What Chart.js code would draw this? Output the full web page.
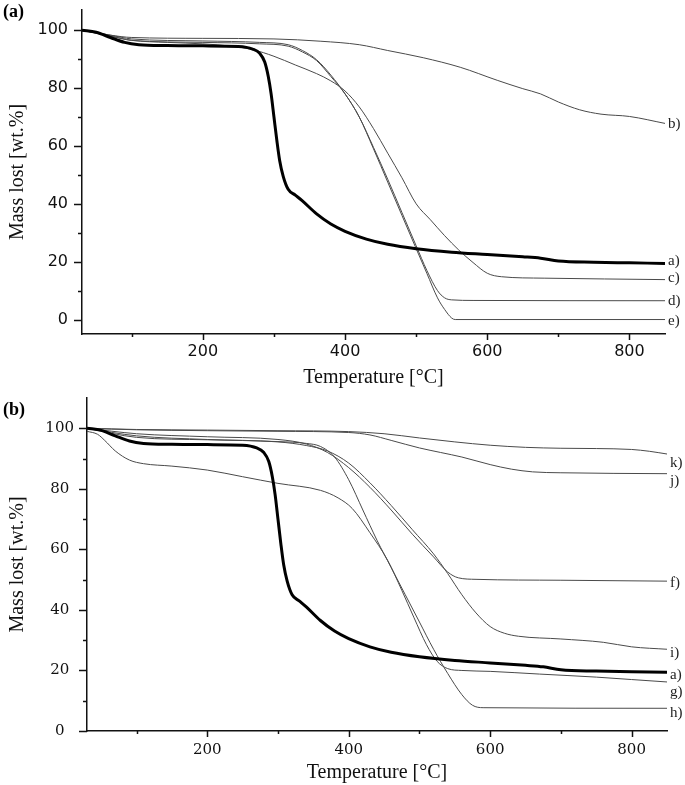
<!DOCTYPE html>
<html>
<head>
<title>TGA curves</title>
<script src="https://cdn.jsdelivr.net/npm/chart.js"></script>
<style>
  body { margin: 0; background: #fff; }
  canvas { display: block; }
</style>
</head>
<body>
<canvas id="panel-a" width="685" height="390"></canvas>
<canvas id="panel-b" width="685" height="395"></canvas>
<script>
// [temperature °C, mass wt.%]
const curveA = [[30,100],[50,99.3],[70,97.5],[90,95.8],[110,95.0],[150,94.7],[200,94.6],[250,94.4],[270,93.5],[280,92],[287,89],[292,84],[296,78],[300,70],[304,62],[308,55],[313,49.5],[320,45],[330,43],[340,41],[360,36.5],[380,33],[400,30.5],[430,27.8],[460,26],[500,24.5],[550,23.3],[600,22.5],[650,21.7],[675,21.2],[700,20.2],[750,19.8],[800,19.6],[850,19.4]];
const curveB = [[30,100],[70,98.3],[100,97.5],[200,97.2],[300,97],[366,96.2],[420,95],[460,93],[510,90.5],[562,87.2],[614,82.7],[650,79.8],[675,78],[700,75.2],[730,72.5],[760,71],[800,70.2],[850,67.8]];
const curveC = [[30,100],[70,98],[100,96.5],[150,95.8],[200,95.3],[240,94.5],[270,93.3],[300,91],[330,88],[360,85],[380,82.5],[400,79],[420,73.5],[440,66],[460,57.5],[480,49],[500,40],[520,34.5],[540,29],[560,24],[580,19.7],[600,16],[620,14.8],[680,14.3],[850,13.8]];
const curveD = [[30,100],[70,98],[100,96.5],[200,95.8],[280,95.3],[320,94.5],[340,92.5],[360,89.5],[380,84],[400,78],[420,70],[440,59.5],[460,48.5],[480,37],[500,25.5],[515,17],[530,10],[540,7.5],[550,6.8],[580,6.6],[850,6.5]];
const curveE = [[30,100],[70,98.3],[100,97],[200,96.3],[280,95.8],[320,95],[340,93],[360,89.8],[380,84.5],[400,78],[420,70],[440,59],[460,47.5],[480,36],[500,24.5],[515,16],[530,7.5],[540,3.5],[550,0.5],[555,0],[850,0]];
const curveF = [[30,100],[100,98.2],[200,97.2],[300,96.3],[340,94.8],[370,92],[400,87],[430,80.5],[460,73],[490,65],[520,57.5],[540,52.5],[555,50.6],[580,50.1],[700,49.8],[850,49.5]];
const curveG = [[30,99],[45,98],[55,96],[70,92.5],[90,89.5],[110,88.3],[150,87.5],[200,86.2],[250,84],[300,81.8],[360,79.5],[385,77],[405,73.5],[430,65.5],[455,56.4],[475,46.5],[492,37.6],[510,28.5],[525,23],[540,20.6],[560,20],[600,19.7],[670,18.8],[750,17.8],[800,17],[850,16.2]];
const curveH = [[30,100],[100,97],[200,96.2],[300,95.6],[340,95],[360,94],[380,90.5],[400,83],[420,73],[440,63],[460,54],[480,45],[500,36],[520,27],[540,19],[560,12],[575,8.5],[590,7.7],[850,7.5]];
const curveI = [[30,100],[100,97.5],[200,96.3],[300,95.5],[340,94.3],[370,92.5],[400,88.5],[430,82],[460,74.5],[490,66.5],[520,58.5],[540,52],[560,45],[580,39],[600,34.5],[620,32.3],[640,31.3],[700,30.4],[760,29.3],[800,27.8],[850,27]];
const curveJ = [[30,100],[100,99.5],[200,99.2],[300,99],[400,98.6],[430,97.8],[460,96],[500,93.5],[530,92],[560,90.5],[600,88],[630,86.5],[660,85.6],[700,85.3],[850,85]];
const curveK = [[30,100],[100,99.6],[200,99.4],[300,99.2],[400,98.9],[450,98.2],[500,96.8],[550,95.5],[600,94.4],[650,93.7],[700,93.4],[750,93.3],[800,93],[825,92.4],[850,91.5]];

const labelsA = ['a)', 'b)', 'c)', 'd)', 'e)'];
const labelsB = ['a)', 'f)', 'g)', 'h)', 'i)', 'j)', 'k)'];

const xMajor = [200, 400, 600, 800];
const xMinor = [100, 300, 500, 700];
const yMajor = [0, 20, 40, 60, 80, 100];
const yMinor = [10, 30, 50, 70, 90];

const serif = '"Liberation Serif", "Times New Roman", serif';

const extras = {
  id: 'extras',
  afterDraw(chart, args, opts) {
    const {ctx, chartArea, scales: {x, y}} = chart;
    ctx.save();
    ctx.strokeStyle = '#111';
    ctx.lineWidth = 1.5;
    ctx.beginPath();
    xMajor.concat(xMinor).forEach(v => {
      const px = Math.round(x.getPixelForValue(v)) + 0.5;
      const len = xMajor.includes(v) ? 6 : 3;
      ctx.moveTo(px, chartArea.bottom);
      ctx.lineTo(px, chartArea.bottom + len);
    });
    yMajor.concat(yMinor).forEach(v => {
      const py = Math.round(y.getPixelForValue(v)) + 0.5;
      const len = yMajor.includes(v) ? 8 : 4;
      ctx.moveTo(chartArea.left, py);
      ctx.lineTo(chartArea.left - len, py);
    });
    ctx.stroke();

    // curve names at the right end
    ctx.fillStyle = '#222';
    ctx.font = '15px ' + serif;
    ctx.textBaseline = 'middle';
    ctx.textAlign = 'left';
    chart.data.datasets.forEach((ds, i) => {
      const last = ds.data[ds.data.length - 1];
      const py = y.getPixelForValue(last.y) + opts.nudge[i];
      ctx.fillText(ds.label, chartArea.right + opts.gap, py);
    });

    ctx.fillStyle = '#000';
    ctx.font = 'bold 18px ' + serif;
    ctx.fillText(opts.letter, 3, opts.letterY);
    ctx.restore();
  }
};

function series(points, label, bold) {
  return {
    label: label,
    data: points.map(p => ({x: p[0], y: p[1]})),
    borderColor: bold ? '#000' : '#4a4a4a',
    borderWidth: bold ? 3 : 1,
    pointRadius: 0,
    fill: false,
    cubicInterpolationMode: 'monotone'
  };
}

function makePanel(id, p) {
  new Chart(document.getElementById(id), {
    type: 'line',
    data: { datasets: p.datasets },
    options: {
      responsive: false,
      animation: false,
      devicePixelRatio: 1,
      layout: { padding: { top: p.top, right: p.right, left: 0, bottom: 0 } },
      plugins: {
        legend: { display: false },
        tooltip: { enabled: false },
        extras: { nudge: p.nudge, letter: p.letter, letterY: p.letterY, gap: p.gap }
      },
      scales: {
        x: {
          type: 'linear',
          min: 30, max: 850,
          grid: { display: false, drawTicks: false },
          border: { display: true, color: '#111', width: 1.5 },
          afterBuildTicks: s => { s.ticks = xMajor.map(v => ({value: v})); },
          afterFit: s => { s.height = p.xHeight; s.paddingLeft = 0; s.paddingRight = 0; },
          ticks: { color: '#111', font: p.tickFont, padding: p.xPad, maxRotation: 0 },
          title: { display: true, text: 'Temperature [°C]', color: '#111',
                   font: { family: serif, size: 20 }, padding: { top: 0, bottom: 0 } }
        },
        y: {
          min: p.yMin, max: p.yMax,
          grid: { display: false, drawTicks: false },
          border: { display: true, color: '#111', width: 1.5 },
          afterBuildTicks: s => { s.ticks = yMajor.map(v => ({value: v})); },
          afterFit: s => { s.width = p.yWidth; s.paddingTop = 0; s.paddingBottom = 0; },
          ticks: { color: '#111', font: p.tickFont, padding: p.yPad, crossAlign: p.cross },
          title: { display: true, text: 'Mass lost [wt.%]', color: '#111',
                   font: { family: serif, size: 20 }, padding: { top: 6, bottom: 0 } }
        }
      }
    },
    plugins: [extras]
  });
}

makePanel('panel-a', {
  datasets: [series(curveA, labelsA[0], true), series(curveB, labelsA[1]), series(curveC, labelsA[2]),
             series(curveD, labelsA[3]), series(curveE, labelsA[4])],
  nudge: [-2, 1, -2, 0, 2],
  letter: '(a)', letterY: 12, gap: 3,
  top: 10, right: 20, xHeight: 56, yWidth: 82,
  yMin: -5, yMax: 107,
  tickFont: { family: '"DejaVu Sans", sans-serif', size: 16 },
  xPad: 8, yPad: 14, cross: 'near'
});

makePanel('panel-b', {
  datasets: [series(curveA, labelsB[0], true), series(curveF, labelsB[1]), series(curveG, labelsB[2]),
             series(curveH, labelsB[3]), series(curveI, labelsB[4]), series(curveJ, labelsB[5]),
             series(curveK, labelsB[6])],
  nudge: [3, 2, 10, 5, 4, 7, 9],
  letter: '(b)', letterY: 20, gap: 3,
  top: 8, right: 18, xHeight: 54, yWidth: 87,
  yMin: 0, yMax: 110,
  tickFont: { family: '"DejaVu Serif", serif', size: 15 },
  xPad: 10, yPad: 13, cross: 'center'
});
</script>
</body>
</html>
